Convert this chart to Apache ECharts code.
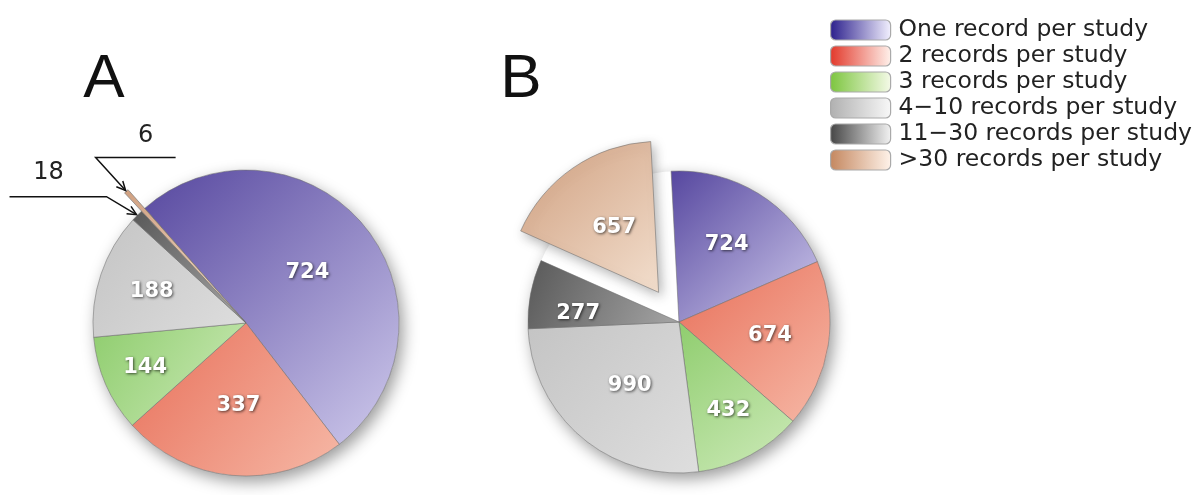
<!DOCTYPE html>
<html>
<head>
<meta charset="utf-8">
<script src="https://cdn.jsdelivr.net/npm/echarts@6/dist/echarts.min.js"></script>
<style>html,body{margin:0;padding:0;background:#fff;}#chart{width:1200px;height:495px;}</style>
</head>
<body>
<div id="chart"></div>
<script>
// ---- data ----
const categories = ['One record per study', '2 records per study', '3 records per study',
  '4\u221210 records per study', '11\u221230 records per study', '>30 records per study'];
const valuesA = [724, 337, 144, 188, 18, 6];
const valuesB = [724, 674, 432, 990, 277, 657];
const panelLabels = ['A', 'B'];

// ---- styles ----
const sliceDark  = ['#56479f', '#e8705a', '#8fcd6e', '#c4c4c4', '#585858', '#d0a080'];
const sliceLight = ['#cfcaec', '#f6b8a6', '#cdeab9', '#dedede', '#a6a6a6', '#f2decd'];
const legendDark  = ['#2b1f8c', '#e2382a', '#7cc53e', '#b0b0b0', '#454545', '#c4875f'];
const legendLight = ['#f3f1ff', '#fff2ec', '#f5fae8', '#f8f8f8', '#f3f3f3', '#fff3ea'];
// panel A: the ">30" sliver sticks out beyond the rim by `protrude` px
const pieA = { cx: 246, cy: 323, r: 153, start: 131.5, protrude: 25, protrudeIdx: 5 };
const pieB = { cx: 679, cy: 322, r: 151, start: 93, offset: 36, sel: 5 };
const labelFactorA = [0.52, 0.54, 0.72, 0.65, null, null];
const labelFactorB = [0.60, 0.61, 0.67, 0.53, 0.67, null];
const labelTurnA = [0, 0, 0, 0, 0, 0];
const labelTurnB = [0, 0, 1, 2, 6, 0];
// call-out geometry for the two tiny slices of panel A (offsets relative to slice tip)
const callout = {
  4: { bend: [-30, -18], end: -97, label: [-58, -24] },
  5: { bend: [-30, -33], end: 80, label: [50, -22] }
};

function lin(c1, c2, x2, y2) {
  return new echarts.graphic.LinearGradient(0, 0, x2, y2, [
    { offset: 0, color: c1 }, { offset: 1, color: c2 }]);
}
function midAngles(values, start) {
  const total = values.reduce((a, b) => a + b, 0);
  let cum = 0;
  return values.map(v => { const m = start - (cum + v / 2) / total * 360; cum += v; return m; });
}
function polar(pie, ang, rad) {
  const t = ang * Math.PI / 180;
  return [pie.cx + rad * Math.cos(t), pie.cy - rad * Math.sin(t)];
}

const midA = midAngles(valuesA, pieA.start);
const midB = midAngles(valuesB, pieB.start);

const chart = echarts.init(document.getElementById('chart'), null, { renderer: 'canvas' });

const insideLabel = {
  show: true, position: 'inside', color: '#fff', fontFamily: 'DejaVu Sans',
  fontWeight: 'bold', fontSize: 21,
  textShadowColor: 'rgba(0,0,0,0.65)', textShadowBlur: 3, textShadowOffsetX: 1, textShadowOffsetY: 1,
  formatter: '{c}'
};
const outsideLabel = {
  show: true, position: 'outside', color: '#222', fontFamily: 'DejaVu Sans',
  fontWeight: 'normal', fontSize: 24, textShadowBlur: 0, textShadowColor: 'transparent', formatter: '{c}'
};

const calloutGeom = {};
Object.keys(callout).forEach(k => {
  const i = +k, c = callout[k];
  const rad = pieA.r + (i === pieA.protrudeIdx ? pieA.protrude : 0) + 1;
  const tip = polar(pieA, midA[i], rad);
  const bend = [tip[0] + c.bend[0], tip[1] + c.bend[1]];
  const end = [bend[0] + c.end, bend[1]];
  const lab = [bend[0] + c.label[0], bend[1] + c.label[1]];
  calloutGeom[i] = { tip, bend, end, lab };
});

function makeData(values, selectedIdx, smallOutside) {
  return values.map((v, i) => {
    const d = {
      name: categories[i], value: v,
      itemStyle: { color: lin(sliceDark[i], sliceLight[i], 1, 1) },
      label: insideLabel,
      labelLine: { show: false }
    };
    if (i === selectedIdx) d.selected = true;
    if (smallOutside && i >= 4) {
      d.label = outsideLabel;
      d.labelLine = { show: true, lineStyle: { color: '#111', width: 1.5 } };
    }
    return d;
  });
}

function layoutFor(pie, mids, factors, turns, isA) {
  return function (p) {
    const i = p.dataIndex;
    if (isA && calloutGeom[i]) {
      const g = calloutGeom[i];
      return {
        x: g.lab[0], y: g.lab[1], align: 'center', verticalAlign: 'middle',
        labelLinePoints: [g.tip, g.bend, g.end]
      };
    }
    const f = factors[i];
    if (f == null) return {};
    const pt = polar(pie, mids[i] + turns[i], f * pie.r);
    return { x: pt[0], y: pt[1], align: 'center', verticalAlign: 'middle' };
  };
}

function shadowSeries(pie) {
  return {
    type: 'pie', silent: true, z: 1, center: [pie.cx, pie.cy], radius: [0, pie.r],
    label: { show: false }, labelLine: { show: false }, emphasis: { disabled: true },
    itemStyle: { color: '#fff', shadowBlur: 16, shadowColor: 'rgba(0,0,0,0.4)', shadowOffsetX: 4, shadowOffsetY: 6 },
    data: [{ value: 1, name: 'shadow' }]
  };
}

const dataA = makeData(valuesA, -1, true);
const dataB = makeData(valuesB, pieB.sel, false);
Object.assign(dataB[5].itemStyle, { shadowBlur: 12, shadowColor: 'rgba(0,0,0,0.3)', shadowOffsetX: 3, shadowOffsetY: 4 });

// overlay of panel A with a longer radius where only the ">30" sliver is visible
const dataA2 = valuesA.map((v, i) => ({
  name: categories[i], value: v,
  itemStyle: i === pieA.protrudeIdx
    ? { color: lin(sliceDark[i], sliceLight[i], 1, 1), borderColor: 'rgba(110,110,110,0.8)', borderWidth: 0.8 }
    : { color: 'rgba(0,0,0,0)', borderWidth: 0 }
}));

function arrowHead(g) {
  const ang = Math.atan2(g.tip[1] - g.bend[1], g.tip[0] - g.bend[0]), L = 10, spread = 0.45;
  const p1 = [g.tip[0] - L * Math.cos(ang - spread), g.tip[1] - L * Math.sin(ang - spread)];
  const p2 = [g.tip[0] - L * Math.cos(ang + spread), g.tip[1] - L * Math.sin(ang + spread)];
  return { type: 'polyline', z: 10, shape: { points: [p1, g.tip, p2] }, style: { stroke: '#111', lineWidth: 1.5, fill: null } };
}

const graphics = panelLabels.map((t, i) => ({
  type: 'text', x: i === 0 ? 104 : 521, y: 80,
  style: { text: t, font: '62px "Liberation Sans", Arial', fill: '#111', textAlign: 'center', textVerticalAlign: 'middle' }
})).concat(Object.keys(calloutGeom).map(k => arrowHead(calloutGeom[k])));

const option = {
  animation: false,
  backgroundColor: '#fff',
  legend: {
    orient: 'vertical', left: 825, top: 13,
    itemWidth: 60, itemHeight: 20, itemGap: 2, icon: 'roundRect',
    selectedMode: false,
    textStyle: { fontFamily: 'DejaVu Sans', fontSize: 23.5, color: '#222', lineHeight: 20, padding: [0, 0, 0, 3] },
    data: categories.map((c, i) => ({
      name: c,
      itemStyle: { color: lin(legendDark[i], legendLight[i], 1, 0), borderColor: '#aaa', borderWidth: 1.2 }
    }))
  },
  graphic: graphics,
  series: [
    shadowSeries(pieA),
    shadowSeries(pieB),
    {
      type: 'pie', name: 'A', z: 3, center: [pieA.cx, pieA.cy], radius: [0, pieA.r],
      startAngle: pieA.start, clockwise: true,
      avoidLabelOverlap: false, emphasis: { disabled: true },
      itemStyle: { borderColor: 'rgba(110,110,110,0.7)', borderWidth: 0.8 },
      labelLayout: layoutFor(pieA, midA, labelFactorA, labelTurnA, true),
      data: dataA
    },
    {
      type: 'pie', name: 'A-sliver', z: 4, silent: true, center: [pieA.cx, pieA.cy],
      radius: [0, pieA.r + pieA.protrude], startAngle: pieA.start, clockwise: true,
      label: { show: false }, labelLine: { show: false }, emphasis: { disabled: true },
      data: dataA2
    },
    {
      type: 'pie', name: 'B', z: 3, center: [pieB.cx, pieB.cy], radius: [0, pieB.r],
      startAngle: pieB.start, clockwise: true, selectedMode: 'single', selectedOffset: pieB.offset,
      avoidLabelOverlap: false, emphasis: { disabled: true },
      itemStyle: { borderColor: 'rgba(110,110,110,0.7)', borderWidth: 0.8 },
      labelLayout: layoutFor(pieB, midB, labelFactorB, labelTurnB, false),
      data: dataB
    }
  ]
};
chart.setOption(option);
</script>
</body>
</html>
